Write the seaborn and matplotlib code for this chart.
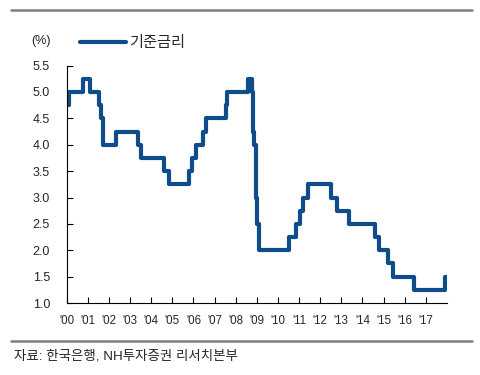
import pandas as pd
import numpy as np
import matplotlib.pyplot as plt
import seaborn as sns
from matplotlib.lines import Line2D

sns.set_style('white')
plt.rcParams['font.family'] = ['Liberation Sans', 'Noto Sans CJK KR']
plt.rcParams['axes.unicode_minus'] = False

# 기준금리 변경일과 금리 (%)
change_dates = ['2000-01-01', '2000-02-10', '2000-10-05', '2001-02-08', '2001-07-05',
                '2001-08-09', '2001-09-19', '2002-05-07', '2003-05-13', '2003-07-10',
                '2004-08-12', '2004-11-11', '2005-10-11', '2005-12-08', '2006-02-09',
                '2006-06-08', '2006-08-10', '2007-07-12', '2007-08-09', '2008-08-07',
                '2008-10-09', '2008-10-27', '2008-11-07', '2008-12-11', '2009-01-09',
                '2009-02-12', '2010-07-09', '2010-11-16', '2011-01-13', '2011-03-10',
                '2011-06-10', '2012-07-12', '2012-10-11', '2013-05-09', '2014-08-14',
                '2014-10-15', '2015-03-12', '2015-06-11', '2016-06-09', '2017-11-30',
                '2017-12-31']
rates = [4.75, 5.00, 5.25, 5.00, 4.75,
         4.50, 4.00, 4.25, 4.00, 3.75,
         3.50, 3.25, 3.50, 3.75, 4.00,
         4.25, 4.50, 4.75, 5.00, 5.25,
         5.00, 4.25, 4.00, 3.00, 2.50,
         2.00, 2.25, 2.50, 2.75, 3.00,
         3.25, 3.00, 2.75, 2.50, 2.25,
         2.00, 1.75, 1.50, 1.25, 1.50,
         1.50]
years = list(range(2000, 2018))
year_labels = ["'%02d" % (y % 100) for y in years]
y_ticks = [1.0, 1.5, 2.0, 2.5, 3.0, 3.5, 4.0, 4.5, 5.0, 5.5]

d = pd.to_datetime(pd.Series(change_dates))
df = pd.DataFrame({
    'x': d.dt.year + (d.dt.dayofyear - 1) / np.where(d.dt.is_leap_year, 366, 365),
    'rate': rates,
})

LINE_COLOR = '#0F4C8C'

fig = plt.figure(figsize=(4.8, 3.75), dpi=100)
ax = fig.add_axes([0.139, 0.192, 0.792, 0.633])

sns.lineplot(data=df, x='x', y='rate', ax=ax, color=LINE_COLOR, linewidth=3,
             drawstyle='steps-post', label='기준금리', sort=False)

ax.set_xlim(2000, 2018)
ax.set_ylim(1.0, 5.5)
ax.set_xticks(years)
ax.set_xticklabels(year_labels)
ax.set_yticks(y_ticks)
ax.set_yticklabels(['%.1f' % v for v in y_ticks])
ax.set_xlabel('')
ax.set_ylabel('')

for s in ['top', 'right']:
    ax.spines[s].set_visible(False)
for s in ['left', 'bottom']:
    ax.spines[s].set_color('black')
    ax.spines[s].set_linewidth(0.8)

ax.tick_params(axis='x', direction='in', length=4, width=0.8, color='black',
               labelsize=8.3, pad=9, bottom=True)
ax.tick_params(axis='y', direction='in', length=4, width=0.8, color='black',
               labelsize=9, pad=12, left=True)

leg = ax.legend(loc='center left', bbox_to_anchor=(80 / 480, 1 - 43 / 375),
                bbox_transform=fig.transFigure, frameon=False, fontsize=11,
                handlelength=3.0, handletextpad=0.2, borderpad=0, borderaxespad=0)

fig.text(31 / 480, 1 - 41 / 375, '(%)', fontsize=9, va='center', ha='left')

# 상단/하단 회색 구분선
fig.add_artist(Line2D([11 / 480, 472 / 480], [1 - 10 / 375, 1 - 10 / 375],
                      color='#808080', linewidth=1.8, transform=fig.transFigure))
fig.add_artist(Line2D([11 / 480, 472 / 480], [1 - 341 / 375, 1 - 341 / 375],
                      color='#808080', linewidth=1.8, transform=fig.transFigure))

fig.text(14 / 480, 1 - 356 / 375, '자료: 한국은행, NH투자증권 리서치본부',
         fontsize=9.7, va='center', ha='left')

plt.savefig('out.png', dpi=100)
plt.close()
